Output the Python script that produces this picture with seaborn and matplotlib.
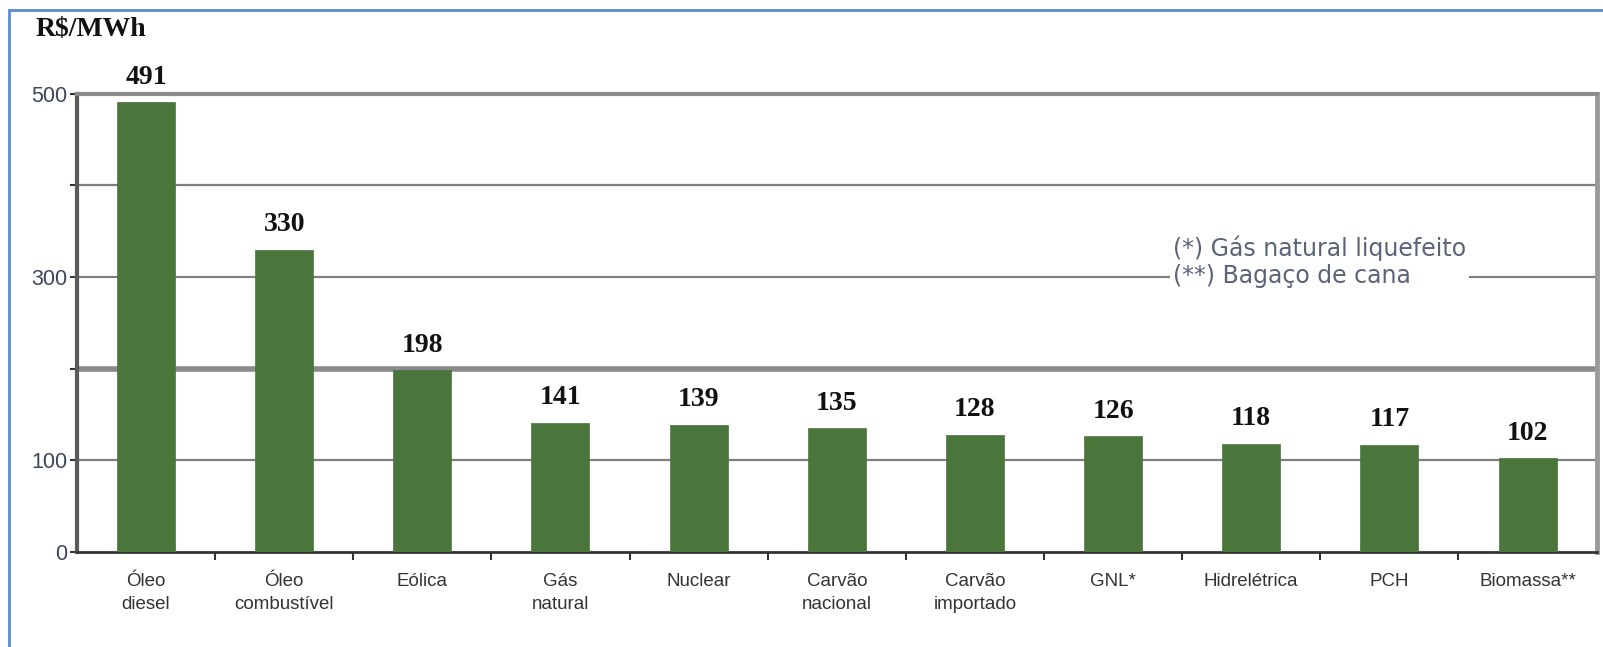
import matplotlib
matplotlib.use("Agg")
import matplotlib.pyplot as plt
import seaborn as sns
import numpy as np
import pandas as pd
from matplotlib.patches import Rectangle

categories = ["Óleo\ndiesel", "Óleo\ncombustível", "Eólica", "Gás\nnatural", "Nuclear",
              "Carvão\nnacional", "Carvão\nimportado", "GNL*", "Hidrelétrica", "PCH", "Biomassa**"]
values = [491, 330, 198, 141, 139, 135, 128, 126, 118, 117, 102]
y_ticks = [0, 100, 200, 300, 400, 500]
y_ticklabels = ["0", "100", "", "300", "", "500"]
unit_label = "R$/MWh"
note_lines = ["(*) Gás natural liquefeito", "(**) Bagaço de cana"]

sns.set_theme(style="white")
plt.rcParams['font.family'] = ['Liberation Sans', 'DejaVu Sans']
sans = ["Liberation Sans", "DejaVu Sans"]

fig = plt.figure(figsize=(16.03, 6.47), dpi=100)
ax = fig.add_axes([0.048, 0.147, 0.948, 0.708])

df = pd.DataFrame({"cat": categories, "val": values})
sns.barplot(data=df, x="cat", y="val", color="#4a763c", saturation=1, width=0.42,
            edgecolor="#4a763c", linewidth=0.5, ax=ax, zorder=3)

ax.set_ylim(0, 500)
ax.set_xlim(-0.5, len(categories) - 0.5)
ax.set_xlabel("")
ax.set_ylabel("")

# gridlines
for t in [100, 300, 400]:
    ax.axhline(t, color="#7f7f7f", lw=1.6, zorder=1)
ax.axhline(200, color="#8a8a8a", lw=4.0, zorder=1)

ax.set_yticks(y_ticks)
ax.set_yticklabels(y_ticklabels, fontsize=15.5, color="#3c465a", family=sans)
ax.tick_params(axis="y", direction="out", length=5, width=1.5, color="#333333", pad=2, left=True)

ax.set_xticks(range(len(categories)))
ax.set_xticklabels(categories, fontsize=13.5, color="#333333", linespacing=1.5, family=sans)
ax.tick_params(axis="x", which="major", length=0, pad=15)
ax.set_xticks(np.arange(0.5, len(categories) - 0.5, 1), minor=True)
ax.tick_params(axis="x", which="minor", direction="out", length=6, width=1.5, color="#333333", bottom=True)

for side in ["top", "right", "left", "bottom"]:
    ax.spines[side].set_visible(True)
ax.spines["left"].set_color("#5a5a5a")
ax.spines["left"].set_linewidth(3)
ax.spines["bottom"].set_color("#333333")
ax.spines["bottom"].set_linewidth(2)
ax.spines["top"].set_color("#8a8a8a")
ax.spines["top"].set_linewidth(3)
ax.spines["right"].set_color("#9a9a9a")
ax.spines["right"].set_linewidth(3.5)

for i, v in enumerate(values):
    ax.annotate(str(v), (i, v), xytext=(0, 9), textcoords="offset points",
                ha="center", va="bottom", fontsize=20, fontweight="bold",
                family=["Liberation Serif", "DejaVu Serif"], color="#111111", zorder=5)

ax.text(0.721, 0.633, note_lines[0] + "\n" + note_lines[1], transform=ax.transAxes,
        ha="left", va="center", fontsize=17, color="#5a6478", linespacing=1.15,
        family=["DejaVu Sans"],
        bbox=dict(facecolor="white", edgecolor="none", pad=2), zorder=6)

fig.text(0.022, 0.955, unit_label, fontsize=20, fontweight="bold",
         family=["Liberation Serif", "DejaVu Serif"], color="#111111", ha="left", va="center")

# blue frame
fig.add_artist(Rectangle((0.0055, -0.1), 1.1, 1.084, transform=fig.transFigure,
                         fill=False, edgecolor="#5b8bd0", lw=2))

fig.savefig("out.png", dpi=100)
